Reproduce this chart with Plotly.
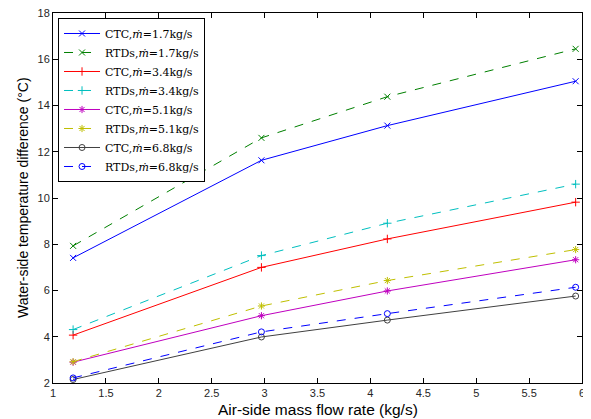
import plotly.graph_objects as go

air_flow = [1.19, 2.97, 4.16, 5.94]

ctc_17 = [7.41, 11.63, 13.13, 15.05]
rtd_17 = [7.93, 12.60, 14.38, 16.45]
ctc_34 = [4.07, 7.00, 8.23, 9.82]
rtd_34 = [4.31, 7.51, 8.91, 10.60]
ctc_51 = [2.90, 4.91, 5.98, 7.33]
rtd_51 = [2.92, 5.33, 6.43, 7.77]
ctc_68 = [2.15, 3.99, 4.72, 5.76]
rtd_68 = [2.22, 4.21, 5.00, 6.14]

x_title = "Air-side mass flow rate (kg/s)"
y_title = "Water-side temperature difference (°C)"

series = [
    ("CTC,<i>ṁ</i>=1.7kg/s", ctc_17, "#0000FF", "solid", "x-thin-open"),
    ("RTDs,<i>ṁ</i>=1.7kg/s", rtd_17, "#008000", "dash", "x-thin-open"),
    ("CTC,<i>ṁ</i>=3.4kg/s", ctc_34, "#FF0000", "solid", "cross-thin-open"),
    ("RTDs,<i>ṁ</i>=3.4kg/s", rtd_34, "#00BFBF", "dash", "cross-thin-open"),
    ("CTC,<i>ṁ</i>=5.1kg/s", ctc_51, "#BF00BF", "solid", "asterisk-open"),
    ("RTDs,<i>ṁ</i>=5.1kg/s", rtd_51, "#BFBF00", "dash", "asterisk-open"),
    ("CTC,<i>ṁ</i>=6.8kg/s", ctc_68, "#404040", "solid", "circle-open"),
    ("RTDs,<i>ṁ</i>=6.8kg/s", rtd_68, "#0000FF", "dash", "circle-open"),
]

fig = go.Figure()
for name, ys, color, dash, sym in series:
    fig.add_trace(go.Scatter(
        x=air_flow, y=ys, name=name, mode="lines+markers",
        line=dict(color=color, width=1, dash=dash),
        marker=dict(symbol=sym, size=6, color=color, line=dict(color=color, width=1)),
    ))

fig.update_layout(
    width=583, height=411,
    margin=dict(l=45, r=9, t=5, b=36),
    paper_bgcolor="white", plot_bgcolor="white",
    font=dict(family="Arial, Liberation Sans, sans-serif", size=11, color="#262626"),
    legend=dict(
        x=0.0095, y=0.9865, xanchor="left", yanchor="top",
        bordercolor="black", borderwidth=1, bgcolor="white",
        font=dict(family="DejaVu Serif, Liberation Serif, serif", size=11, color="black"),
        tracegroupgap=0, itemwidth=36,
    ),
    xaxis=dict(
        range=[1, 6], dtick=0.5, automargin=False, ticklabeloverflow="allow",
        showgrid=False, zeroline=False,
        ticks="inside", ticklen=5, tickcolor="black",
        showline=True, linecolor="black", linewidth=1, mirror="ticks",
    ),
    yaxis=dict(
        range=[2, 18], dtick=2, automargin=False, ticklabeloverflow="allow",
        showgrid=False, zeroline=False,
        ticks="inside", ticklen=5, tickcolor="black",
        showline=True, linecolor="black", linewidth=1, mirror="ticks",
    ),
    annotations=[
        dict(text=x_title, xref="paper", yref="paper", x=0.5, y=0,
             xanchor="center", yanchor="middle", yshift=-26, showarrow=False,
             font=dict(size=15.5, color="black")),
        dict(text=y_title, xref="paper", yref="paper", x=0, y=0.5,
             xanchor="center", yanchor="middle", xshift=-30, textangle=-90,
             showarrow=False, font=dict(size=14, color="black")),
    ],
)

fig.write_html("out.html")
